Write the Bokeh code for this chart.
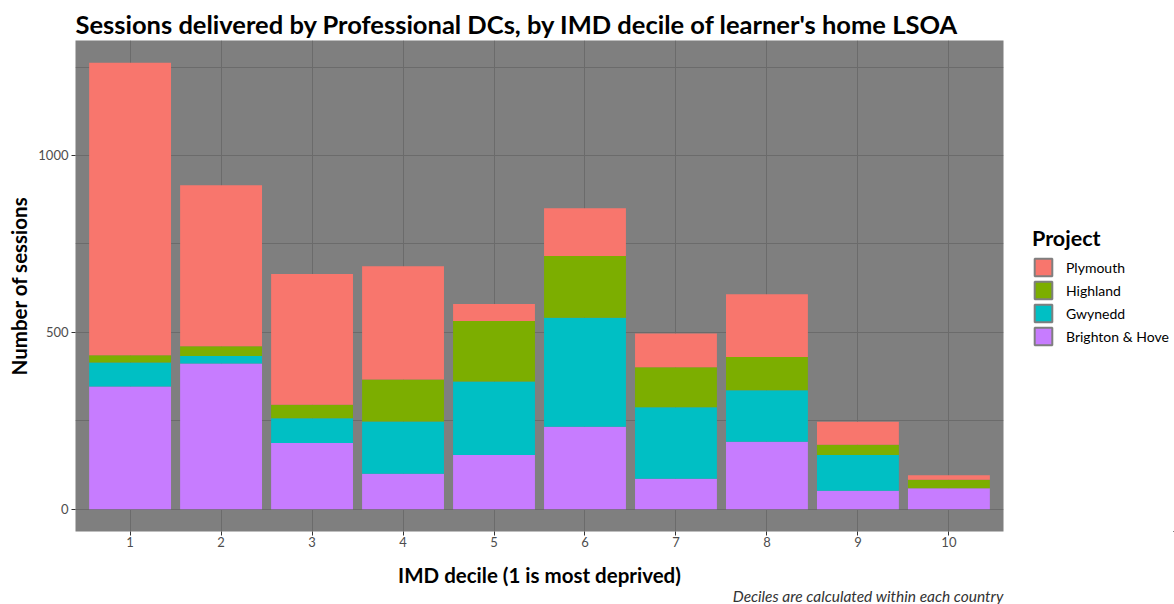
from bokeh.plotting import figure
from bokeh.layouts import row
from bokeh.models import Range1d, FixedTicker, Legend, LegendItem, Title, ColumnDataSource
from bokeh.embed import file_html
from bokeh.resources import INLINE

# ---- data ----
deciles = [1, 2, 3, 4, 5, 6, 7, 8, 9, 10]
tick_labels = ["1", "2", "3", "4", "5", "6", "7", "8", "9", "10"]
brighton = [347, 412, 187, 100, 153, 233, 86, 191, 52, 59]
gwynedd = [68, 21, 70, 148, 208, 308, 202, 145, 101, 0]
highland = [20, 28, 38, 119, 171, 175, 113, 94, 29, 24]
plymouth = [827, 455, 370, 320, 48, 135, 96, 178, 65, 13]

stack_order = ["Brighton & Hove", "Gwynedd", "Highland", "Plymouth"]
legend_order = ["Plymouth", "Highland", "Gwynedd", "Brighton & Hove"]
palette = {"Plymouth": "#F8766D", "Highland": "#7CAE00",
           "Gwynedd": "#00BFC4", "Brighton & Hove": "#C77CFF"}

source = ColumnDataSource(data={
    "decile": deciles,
    "Brighton & Hove": brighton,
    "Gwynedd": gwynedd,
    "Highland": highland,
    "Plymouth": plymouth,
})

FONT = "Lato"
MAIN_W, LEG_W, H = 1013, 161, 604

p = figure(width=MAIN_W, height=H, output_backend="svg", toolbar_location=None,
           x_range=Range1d(0.4, 10.6), y_range=Range1d(-63, 1325),
           min_border_left=75, min_border_right=10, min_border_top=40,
           min_border_bottom=73)

p.background_fill_color = "#7F7F7F"
p.border_fill_color = "white"
p.outline_line_color = None

p.vbar_stack(stack_order, x="decile", width=0.9, source=source,
             fill_color=[palette[n] for n in stack_order], line_color=None)

# title
p.title.text = "Sessions delivered by Professional DCs, by IMD decile of learner's home LSOA"
p.title.text_font = FONT
p.title.text_font_size = "25.5px"
p.title.text_font_style = "bold"
p.title.text_color = "black"
p.title.align = "left"
p.title.standoff = 4

# axes
p.xaxis.ticker = FixedTicker(ticks=deciles)
p.xaxis.major_label_overrides = {d: t for d, t in zip(deciles, tick_labels)}
p.yaxis.ticker = FixedTicker(ticks=[0, 500, 1000], minor_ticks=[250, 750, 1250])
for ax in (p.xaxis, p.yaxis):
    ax.axis_line_color = None
    ax.major_tick_line_color = "#333333"
    ax.major_tick_out = 4
    ax.major_tick_in = 0
    ax.minor_tick_line_color = None
    ax.major_label_text_font = FONT
    ax.major_label_text_font_size = "13px"
    ax.major_label_text_color = "#4D4D4D"
    ax.axis_label_text_font = FONT
    ax.axis_label_text_font_size = "20.5px"
    ax.axis_label_text_font_style = "bold"
    ax.axis_label_text_color = "black"
p.xaxis.major_label_standoff = 1
p.yaxis.major_label_standoff = 3
p.xaxis.axis_label = "IMD decile (1 is most deprived)"
p.yaxis.axis_label = "Number of sessions"
p.xaxis.axis_label_standoff = 13
p.yaxis.axis_label_standoff = 4

# grid
p.xgrid.grid_line_color = "#6B6B6B"
p.ygrid.grid_line_color = "#6B6B6B"
p.ygrid.minor_grid_line_color = "#6B6B6B"
p.xgrid.grid_line_width = 1
p.ygrid.grid_line_width = 1

# caption
cap = Title(text="Deciles are calculated within each country", align="right",
            text_font=FONT, text_font_size="15.5px", text_font_style="italic",
            text_color="#333333", standoff=-10)
p.add_layout(cap, "below")

# ---- legend in its own panel to the right ----
# the key renderers share the data but lie entirely outside this panel's ranges
q = figure(width=LEG_W, height=H, output_backend="svg", toolbar_location=None,
           x_range=Range1d(-1, 0), y_range=Range1d(1300, 1400),
           x_axis_location=None, y_axis_location=None, min_border=0)
q.outline_line_color = None
q.grid.visible = False
q.background_fill_color = "white"
q.border_fill_color = "white"
key_renderers = q.vbar_stack(stack_order, x="decile", width=0.9, source=source,
                             fill_color=[palette[n] for n in stack_order],
                             line_color="#7F7F7F", line_width=2)
kmap = dict(zip(stack_order, key_renderers))
items = [LegendItem(label=name, renderers=[kmap[name]]) for name in legend_order]
legend = Legend(items=items, location=(19, 184),
                title="Project", title_text_font=FONT, title_text_font_size="21.5px",
                title_text_font_style="bold", title_text_color="black",
                title_standoff=5,
                label_text_font=FONT, label_text_font_size="14px",
                label_text_color="black",
                glyph_width=22, glyph_height=22, label_height=22,
                label_standoff=12, spacing=1, padding=0, margin=0,
                border_line_color=None, background_fill_alpha=0)
q.add_layout(legend)

layout = row(p, q)
open("out.html", "w").write(file_html(layout, INLINE))
